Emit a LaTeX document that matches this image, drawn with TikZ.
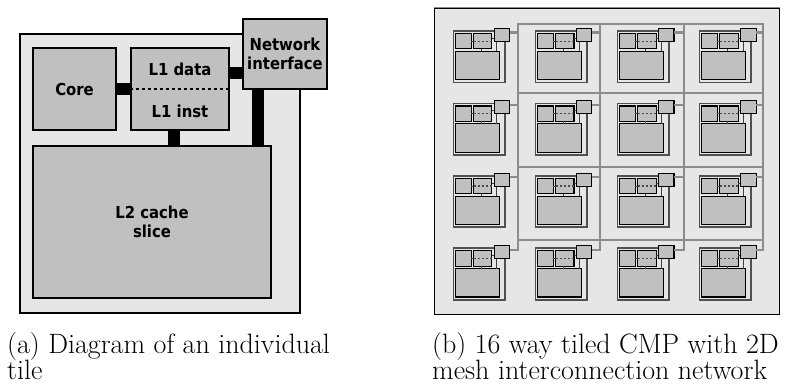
\documentclass[tikz,border=0pt]{standalone}
\usepackage{fontspec}
\newfontfamily\lblfont[FakeStretch=0.9]{DejaVu Sans}
\definecolor{tilebg}{HTML}{E6E6E6}
\definecolor{boxfill}{HTML}{C0C0C0}
\definecolor{meshgray}{HTML}{8C8C8C}
\definecolor{framegray}{HTML}{505050}
\tikzset{
  tileframe/.style={draw=black, line width=2pt, fill=tilebg, inner sep=0pt},
  bigbox/.style={draw=black, line width=2.4pt, fill=boxfill, inner sep=0pt,
    align=center, font=\lblfont\bfseries\fontsize{16.5}{18.5}\selectfont},
  lbl/.style={inner sep=0pt, font=\lblfont\bfseries\fontsize{16.5}{18.5}\selectfont},
  bar/.style={draw=black, line width=12pt, line cap=butt},
  dashline/.style={draw=black, line width=1.8pt, dash pattern=on 3pt off 3pt},
  captext/.style={inner sep=0pt, anchor=base west, font=\fontsize{28}{29}\selectfont},
  chipframe/.style={draw=black, line width=1pt, fill=tilebg, inner sep=0pt},
  meshwire/.style={draw=meshgray, line width=2.2pt, line cap=rect},
  % miniature tile, drawn in the coordinates of the large tile
  mframe/.style={draw=framegray, line width=1.6pt, fill=tilebg},
  mbox/.style={draw=black, line width=1.1pt, fill=boxfill},
  mwire/.style={draw=black!75, line width=1pt},
  mdash/.style={draw=black!70, line width=1.3pt, dash pattern=on 2pt off 2pt},
}
% one miniature tile; #1 names its network-interface port
\newcommand\minitile[1]{%
  \path[mframe] (0,0) rectangle (282,281);
  \path[mbox] (13,14) rectangle (98,98);
  \path[mbox] (111,14) rectangle (211,98);
  \path[mbox] (13,112) rectangle (253,266);
  \draw[mwire] (98,56) -- (111,56);
  \draw[mdash] (111,56) -- (211,56);
  \draw[mwire] (211,41) -- (223,41);
  \draw[mwire] (154.5,98) -- (154.5,112);
  \draw[mwire] (238.5,57) -- (238.5,112);
  \path[mbox] (223,-15) rectangle (309,57);
  \coordinate (#1) at (309,8);
}
\begin{document}
\begin{tikzpicture}[x=1pt, y=-1pt]
\useasboundingbox (0,0) rectangle (792,383);

% ---------------- (a) a single tile ----------------
\node[tileframe, minimum width=280pt, minimum height=279pt] (tile) at (160,173.5) {};
\node[bigbox, minimum width=82.6pt, minimum height=81.6pt] (core) at (74.5,89) {Core};
\node[bigbox, minimum width=97.6pt, minimum height=81.6pt] (l1) at (180,89) {};
\node[bigbox, minimum width=237.6pt, minimum height=151.6pt] (l2) at (152,222) {L2 cache\\slice};
\node[bigbox, minimum width=83.6pt, minimum height=69.6pt] (ni) at (285,54) {Network\\interface};
\node[lbl] (l1d) at (180,69) {L1 data};
\node[lbl] (l1i) at (180,111) {L1 inst};

\coordinate (l1ni) at ([yshift=-26pt]l1.north east);
\coordinate (l1l2) at ([xshift=-6.5pt]l1.south);
\coordinate (nil2) at ([xshift=-27.5pt]ni.south);
\draw[bar] (core.east) -- (l1.west);
\draw[bar] (l1ni) -- (l1ni -| ni.west);
\draw[bar] (l1l2) -- (l1l2 |- l2.north);
\draw[bar] (nil2) -- (nil2 |- l2.north);
\draw[dashline] (l1.west) -- (l1.east);

% ---------------- (b) 4x4 tiled chip with 2D mesh ----------------
\node[chipframe, minimum width=345pt, minimum height=306pt] (chip) at (606.5,161) {};
\draw[draw=meshgray, line width=1pt] (chip.north west) -- (chip.north east);

\foreach \r in {0,...,3}
  \foreach \c in {0,...,3}{
    \begin{scope}[shift={(453.3+82.07*\c, 31+72.43*\r)}, scale=0.183]
      \minitile{ni\r\c}
    \end{scope}
  }

% mesh lines
\foreach \c/\xx in {0/518.3, 1/600, 2/684, 3/762.7}{
  \coordinate (vtop\c) at (\xx,24);
  \draw[meshwire] (vtop\c) -- (vtop\c |- ni3\c);
}
\foreach \r/\yy in {0/24, 1/92.7, 2/166.7, 3/240.3}{
  \coordinate (hleft\r) at (518.3,\yy);
  \draw[meshwire] (hleft\r) -- (hleft\r -| vtop3);
}
\foreach \r in {0,...,3}
  \foreach \c in {0,...,3}{
    \draw[meshwire, line cap=butt] (ni\r\c) -- (ni\r\c -| vtop\c);
  }

% ---------------- captions ----------------
\node[captext] (capa1) at (7,353) {(a) Diagram of an individual};
\node[captext] (capa2) at (7,379) {tile};
\node[captext] (capb1) at (432,353) {(b) 16 way tiled CMP with 2D};
\node[captext] (capb2) at (432,379) {mesh interconnection network};
\end{tikzpicture}
\end{document}
